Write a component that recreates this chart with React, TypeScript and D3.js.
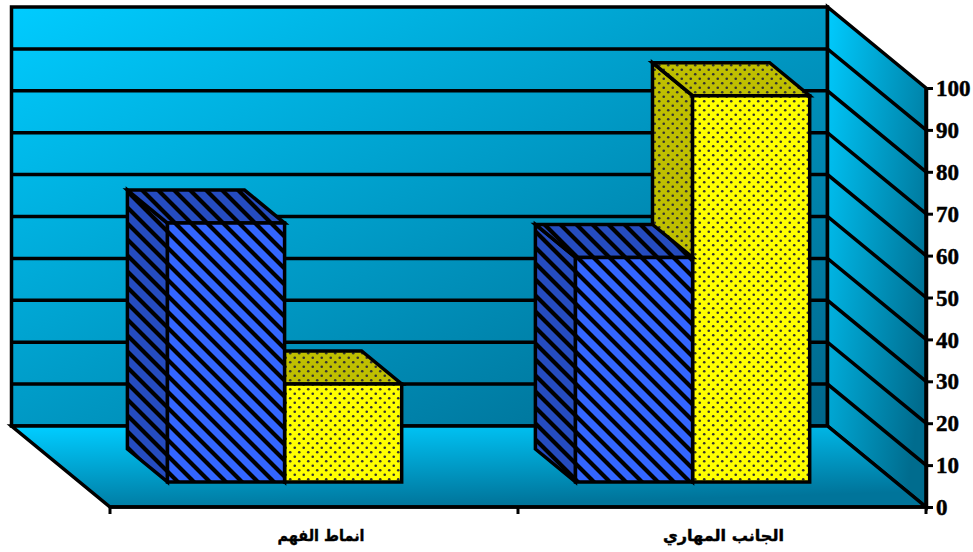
import { useEffect, useRef } from 'react'
import * as d3 from 'd3'

const categories = ['انماط الفهم', 'الجانب المهاري']
const seriesNames = ['blue', 'yellow']
const blueValues = [61.8, 53.6]
const yellowValues = [23.4, 92.2]
const tickValues = [0, 10, 20, 30, 40, 50, 60, 70, 80, 90, 100]

const width = 973
const height = 552
const depthX = 98.5
const depthY = 81
const barDepthFront = 0.309
const barDepthBack = 0.716

const faces: Record<string, { front: string; dark: string }> = {
  blue: { front: 'stripeFront', dark: 'stripeDark' },
  yellow: { front: 'dotFront', dark: 'dotDark' },
}

// the Arabic face differs from the original, so fit each label to the width it had
const labelFit: Record<string, { shift: number; length: number }> = {
  [categories[0]]: { shift: 7, length: 87 },
  [categories[1]]: { shift: 1.5, length: 121 },
}

export default function App() {
  const svgRef = useRef<SVGSVGElement>(null)

  useEffect(() => {
    if (!svgRef.current) return

    const svg = d3.select(svgRef.current)
    svg.selectAll('*').remove()

    const xScale = d3.scaleBand<string>()
      .domain(categories)
      .range([110, 926])

    const yScale = d3.scaleLinear()
      .domain([0, 100])
      .range([507, 88])

    const seriesScale = d3.scaleBand<string>()
      .domain(seriesNames)
      .range([xScale.bandwidth() * 0.2155, xScale.bandwidth() * 0.7895])

    const [x0, x1] = xScale.range()
    const project = (x: number, value: number, depth: number): [number, number] =>
      [x - depthX * depth, yScale(value) - depthY * depth]
    const pathOf = (pts: [number, number][]) => d3.line()(pts) + 'Z'

    const defs = svg.append('defs')

    const gradient = (id: string, a: number[], stops: [string, string]) => {
      const g = defs.append('linearGradient').attr('id', id)
        .attr('x1', a[0]).attr('y1', a[1]).attr('x2', a[2]).attr('y2', a[3])
      g.append('stop').attr('offset', 0).attr('stop-color', stops[0])
      g.append('stop').attr('offset', 1).attr('stop-color', stops[1])
    }
    gradient('wallFill', [0, 0, 1, 1], ['#00ccff', '#00668a'])
    gradient('sideFill', [0, 0, 1, 0.7], ['#00ccff', '#006c8e'])
    gradient('floorFill', [0.1, 0, 0.45, 1], ['#00ccff', '#00749a'])

    const stripes = (id: string, color: string) => {
      const p = defs.append('pattern').attr('id', id)
        .attr('patternUnits', 'userSpaceOnUse')
        .attr('width', 16).attr('height', 16)
      p.append('rect').attr('width', 16).attr('height', 16).attr('fill', color)
      p.append('path').attr('d', 'M-4,-4L20,20M-4,12L4,20M12,-4L20,4')
        .attr('stroke', '#000').attr('stroke-width', 4.2)
    }
    stripes('stripeFront', '#3366ff')
    stripes('stripeDark', '#254cc0')

    const dots = (id: string, color: string) => {
      const p = defs.append('pattern').attr('id', id)
        .attr('patternUnits', 'userSpaceOnUse')
        .attr('width', 9).attr('height', 9)
      p.append('rect').attr('width', 9).attr('height', 9).attr('fill', color)
      p.append('circle').attr('cx', 2.25).attr('cy', 2.25).attr('r', 1.3).attr('fill', '#333')
      p.append('circle').attr('cx', 6.75).attr('cy', 6.75).attr('r', 1.3).attr('fill', '#333')
    }
    dots('dotFront', '#ffff00')
    dots('dotDark', '#bfbf00')

    const chart = svg.append('g')
      .attr('stroke', '#000')
      .attr('stroke-width', 3.5)
      .attr('stroke-linejoin', 'miter')

    // back wall
    chart.append('path')
      .attr('d', pathOf([
        project(x0, 0, 1), project(x1, 0, 1), project(x1, 100, 1), project(x0, 100, 1),
      ]))
      .attr('fill', 'url(#wallFill)')

    // side wall
    chart.append('path')
      .attr('d', pathOf([
        project(x1, 0, 1), project(x1, 0, 0), project(x1, 100, 0), project(x1, 100, 1),
      ]))
      .attr('fill', 'url(#sideFill)')

    // floor
    chart.append('path')
      .attr('d', pathOf([
        project(x0, 0, 1), project(x1, 0, 1), project(x1, 0, 0), project(x0, 0, 0),
      ]))
      .attr('fill', 'url(#floorFill)')

    // gridlines across the back wall and down the side wall
    chart.selectAll('.grid')
      .data(tickValues.slice(1, -1))
      .enter().append('path')
      .attr('class', 'grid')
      .attr('fill', 'none')
      .attr('d', d => d3.line()([project(x0, d, 1), project(x1, d, 1), project(x1, d, 0)]))

    // bars, yellow first so the blue ones sit over them
    const barData = categories.flatMap((c, i) => [
      { category: c, series: 'yellow', value: yellowValues[i] },
      { category: c, series: 'blue', value: blueValues[i] },
    ])

    const bars = chart.selectAll('.bar')
      .data(barData)
      .enter().append('g')
      .attr('class', 'bar')

    const left = (d: { category: string; series: string }) =>
      (xScale(d.category) || 0) + (seriesScale(d.series) || 0)
    const right = (d: { category: string; series: string }) => left(d) + seriesScale.bandwidth()

    bars.append('path')
      .attr('fill', d => `url(#${faces[d.series].dark})`)
      .attr('d', d => pathOf([
        project(left(d), 0, barDepthFront), project(left(d), 0, barDepthBack),
        project(left(d), d.value, barDepthBack), project(left(d), d.value, barDepthFront),
      ]))

    bars.append('path')
      .attr('fill', d => `url(#${faces[d.series].dark})`)
      .attr('d', d => pathOf([
        project(left(d), d.value, barDepthFront), project(left(d), d.value, barDepthBack),
        project(right(d), d.value, barDepthBack), project(right(d), d.value, barDepthFront),
      ]))

    bars.append('path')
      .attr('fill', d => `url(#${faces[d.series].front})`)
      .attr('d', d => pathOf([
        project(left(d), 0, barDepthFront), project(right(d), 0, barDepthFront),
        project(right(d), d.value, barDepthFront), project(left(d), d.value, barDepthFront),
      ]))

    // value axis
    const yAxis = svg.append('g')
      .attr('transform', `translate(${x1},0)`)
      .call(d3.axisRight(yScale).tickValues(tickValues).tickSize(7).tickSizeOuter(0).tickFormat(d3.format('d')))
    yAxis.select('.domain').attr('stroke', '#000').attr('stroke-width', 3.5)
    yAxis.selectAll('line').attr('stroke', '#000').attr('stroke-width', 3)
    yAxis.selectAll<SVGTextElement, number>('text')
      .attr('x', 10)
      .attr('fill', '#000')
      .attr('stroke', '#000')
      .attr('stroke-width', 0.5)
      .attr('font-family', '"Liberation Serif", serif')
      .attr('font-weight', 'bold')
      .attr('font-size', 24)
      .attr('textLength', d => String(d).length * 11.5)
      .attr('lengthAdjust', 'spacingAndGlyphs')

    // category axis
    const xAxis = svg.append('g')
      .attr('transform', `translate(0,${yScale(0)})`)
    xAxis.append('line')
      .attr('x1', x0).attr('x2', x1)
      .attr('stroke', '#000').attr('stroke-width', 3.5)
    xAxis.selectAll('.tick-mark')
      .data([x0, x0 + xScale.step(), x1])
      .enter().append('line')
      .attr('class', 'tick-mark')
      .attr('x1', d => d).attr('x2', d => d)
      .attr('y1', 0).attr('y2', 7)
      .attr('stroke', '#000').attr('stroke-width', 3)
    xAxis.selectAll('.cat')
      .data(categories)
      .enter().append('text')
      .attr('class', 'cat')
      .attr('x', d => (xScale(d) || 0) + xScale.bandwidth() / 2 + labelFit[d].shift)
      .attr('y', 34)
      .attr('text-anchor', 'middle')
      .attr('direction', 'rtl')
      .attr('font-family', '"DejaVu Sans", sans-serif')
      .attr('font-weight', 'bold')
      .attr('font-size', 15.5)
      .attr('fill', '#000')
      .attr('stroke', '#000')
      .attr('stroke-width', 0.4)
      .attr('textLength', d => labelFit[d].length)
      .attr('lengthAdjust', 'spacingAndGlyphs')
      .text(d => d)
  }, [])

  return (
    <svg
      ref={svgRef}
      width={width}
      height={height}
      style={{ position: 'absolute', left: 0, top: 0, display: 'block', background: '#fff' }}
    />
  )
}
